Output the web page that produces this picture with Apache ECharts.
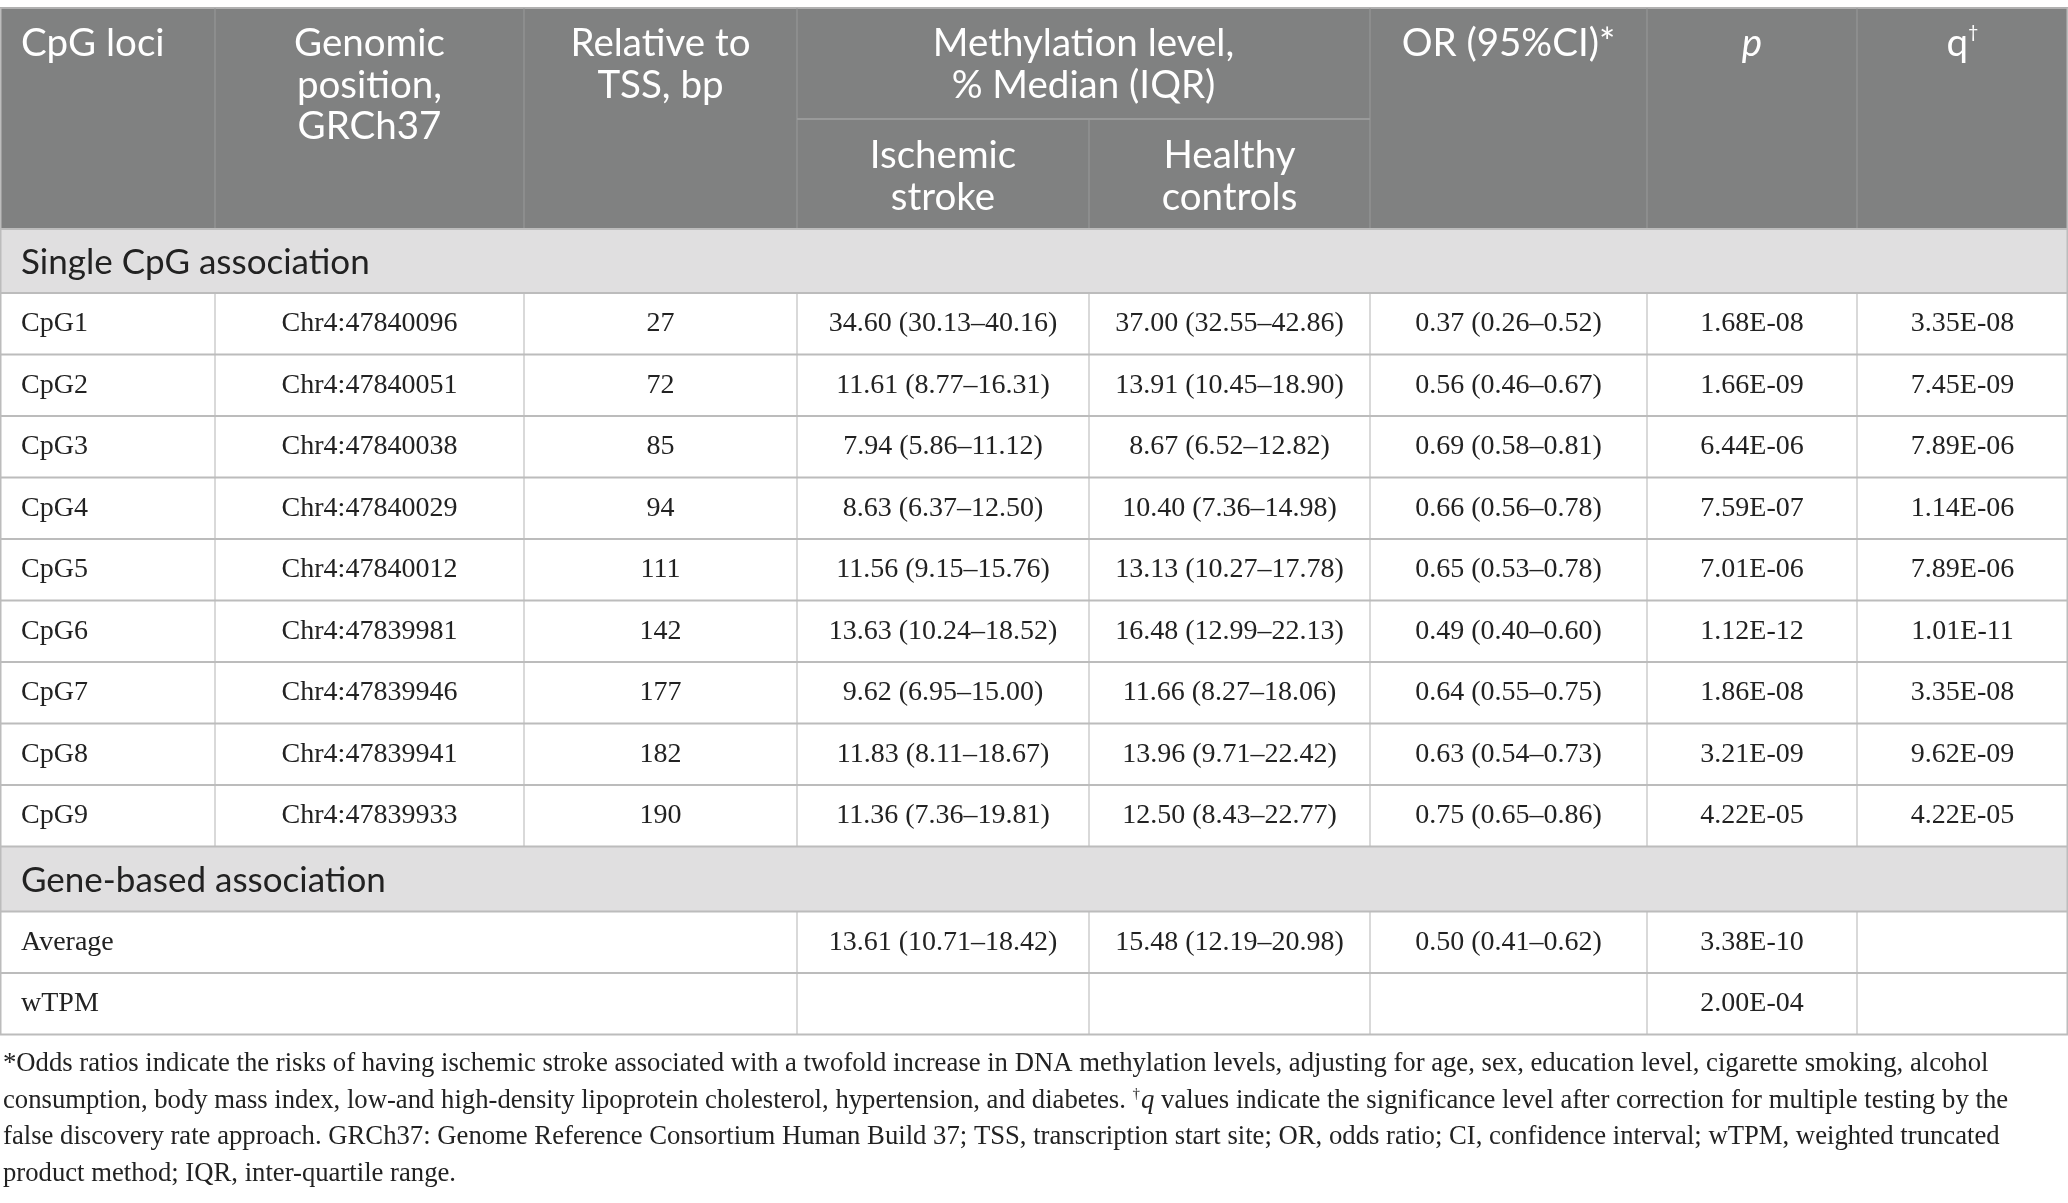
<!DOCTYPE html>
<html lang="en">
<head>
<meta charset="UTF-8">
<title>CpG methylation table</title>
<script src="https://cdn.jsdelivr.net/npm/echarts@6/dist/echarts.min.js"></script>
<style>
  html, body { margin: 0; padding: 0; background: #fff; }
  #main { width: 2068px; height: 1203px; }
</style>
</head>
<body>
<div id="main"></div>
<script>
// ---- table content ----
var sectionTitles = ['Single CpG association', 'Gene-based association'];
var loci = ['CpG1', 'CpG2', 'CpG3', 'CpG4', 'CpG5', 'CpG6', 'CpG7', 'CpG8', 'CpG9'];
var positions = ['Chr4:47840096', 'Chr4:47840051', 'Chr4:47840038', 'Chr4:47840029', 'Chr4:47840012',
  'Chr4:47839981', 'Chr4:47839946', 'Chr4:47839941', 'Chr4:47839933'];
var tssDist = ['27', '72', '85', '94', '111', '142', '177', '182', '190'];
var ischemic = ['34.60 (30.13–40.16)', '11.61 (8.77–16.31)', '7.94 (5.86–11.12)', '8.63 (6.37–12.50)',
  '11.56 (9.15–15.76)', '13.63 (10.24–18.52)', '9.62 (6.95–15.00)', '11.83 (8.11–18.67)', '11.36 (7.36–19.81)'];
var healthy = ['37.00 (32.55–42.86)', '13.91 (10.45–18.90)', '8.67 (6.52–12.82)', '10.40 (7.36–14.98)',
  '13.13 (10.27–17.78)', '16.48 (12.99–22.13)', '11.66 (8.27–18.06)', '13.96 (9.71–22.42)', '12.50 (8.43–22.77)'];
var orCI = ['0.37 (0.26–0.52)', '0.56 (0.46–0.67)', '0.69 (0.58–0.81)', '0.66 (0.56–0.78)', '0.65 (0.53–0.78)',
  '0.49 (0.40–0.60)', '0.64 (0.55–0.75)', '0.63 (0.54–0.73)', '0.75 (0.65–0.86)'];
var pVals = ['1.68E-08', '1.66E-09', '6.44E-06', '7.59E-07', '7.01E-06', '1.12E-12', '1.86E-08', '3.21E-09', '4.22E-05'];
var qVals = ['3.35E-08', '7.45E-09', '7.89E-06', '1.14E-06', '7.89E-06', '1.01E-11', '3.35E-08', '9.62E-09', '4.22E-05'];

var geneMethods = ['Average', 'wTPM'];
var geneIschemic = ['13.61 (10.71–18.42)', ''];
var geneHealthy = ['15.48 (12.19–20.98)', ''];
var geneOR = ['0.50 (0.41–0.62)', ''];
var geneP = ['3.38E-10', '2.00E-04'];
var geneQ = ['', ''];

var footLines = [
  '*Odds ratios indicate the risks of having ischemic stroke associated with a twofold increase in DNA methylation levels, adjusting for age, sex, education level, cigarette smoking, alcohol',
  'consumption, body mass index, low-and high-density lipoprotein cholesterol, hypertension, and diabetes. {sup|†}{it|q} values indicate the significance level after correction for multiple testing by the',
  'false discovery rate approach. GRCh37: Genome Reference Consortium Human Build 37; TSS, transcription start site; OR, odds ratio; CI, confidence interval; wTPM, weighted truncated',
  'product method; IQR, inter-quartile range.'
];

// ---- layout ----
var colX = [0, 215, 524, 797, 1089, 1370, 1647, 1857, 2068];
var headTop = 8, subLine = 119, headBottom = 229;
var sec1Bottom = 293, rowH = 61.5;
var sec2Top = sec1Bottom + rowH * loci.length;
var sec2Bottom = sec2Top + 65;
var tableBottom = sec2Bottom + rowH * geneMethods.length;

var headFont = 'Lato, "Open Sans", sans-serif';
var bodyFont = '"Liberation Serif", "DejaVu Serif", serif';
var headGrey = '#808181', secGrey = '#e0dfe0', lineGrey = '#bcbcbc', vGrey = '#cccccc';

var els = [];
function rect(x, y, w, h, fill) {
  els.push({ type: 'rect', shape: { x: x, y: y, width: w, height: h }, style: { fill: fill }, silent: true });
}
function line(x1, y1, x2, y2, color, w) {
  els.push({ type: 'line', shape: { x1: x1, y1: y1, x2: x2, y2: y2 }, style: { stroke: color, lineWidth: w }, silent: true });
}
function cellText(str, col, cy, align) {
  if (!str) return;
  var x = align === 'left' ? colX[col] + 21 : (colX[col] + colX[col + 1]) / 2;
  els.push({ type: 'text', x: x, y: cy, silent: true,
    style: { text: str, fill: '#222', font: '28px ' + bodyFont, textAlign: align || 'center', textVerticalAlign: 'middle' } });
}
function headText(str, cx, top, align, extra) {
  var st = { text: str, fill: '#fff', fontFamily: headFont, fontSize: 38.5, lineHeight: 41.5,
    textAlign: align || 'center', textVerticalAlign: 'top' };
  if (extra) for (var k in extra) st[k] = extra[k];
  els.push({ type: 'text', x: cx, y: top, silent: true, style: st });
}

// header block
rect(0, headTop, 2068, headBottom - headTop, headGrey);
line(0, headTop, 2068, headTop, '#b0b0b0', 2);
[1, 2, 3, 5, 6, 7].forEach(function (i) { line(colX[i], headTop, colX[i], headBottom, '#999a9a', 1); });
line(colX[4], subLine, colX[4], headBottom, '#999a9a', 1);
line(colX[3], subLine, colX[5], subLine, '#999a9a', 2);

function mid(i) { return (colX[i] + colX[i + 1]) / 2; }
headText('CpG loci', 21, 23, 'left');
headText('Genomic\nposition,\nGRCh37', mid(1), 23);
headText('Relative to\nTSS, bp', mid(2), 23);
headText('Methylation level,\n% Median (IQR)', (colX[3] + colX[5]) / 2, 23);
headText('Ischemic\nstroke', mid(3), 135);
headText('Healthy\ncontrols', mid(4), 135);
headText('OR (95%CI)*', mid(5), 23);
headText('p', mid(6), 23, 'center', { fontStyle: 'italic' });
headText('{q|q}{d|†}', mid(7), 23, 'center', {
  rich: { q: { fontFamily: headFont, fontSize: 38.5, fill: '#fff', lineHeight: 41.5 },
          d: { fontFamily: headFont, fontSize: 18, fill: '#fff', verticalAlign: 'top', lineHeight: 41.5 } } });

// section bands
function section(top, bottom, title) {
  rect(0, top, 2068, bottom - top, secGrey);
  els.push({ type: 'text', x: 21, y: (top + bottom) / 2 + 2, silent: true,
    style: { text: title, fill: '#222', fontFamily: headFont, fontSize: 35, textAlign: 'left', textVerticalAlign: 'middle' } });
}
section(headBottom, sec1Bottom, sectionTitles[0]);
section(sec2Top, sec2Bottom, sectionTitles[1]);

// single CpG rows
loci.forEach(function (name, r) {
  var cy = sec1Bottom + rowH * (r + 0.5);
  cellText(name, 0, cy, 'left');
  cellText(positions[r], 1, cy);
  cellText(tssDist[r], 2, cy);
  cellText(ischemic[r], 3, cy);
  cellText(healthy[r], 4, cy);
  cellText(orCI[r], 5, cy);
  cellText(pVals[r], 6, cy);
  cellText(qVals[r], 7, cy);
});
[1, 2, 3, 4, 5, 6, 7].forEach(function (i) { line(colX[i], sec1Bottom, colX[i], sec2Top, vGrey, 1.5); });

// gene-based rows
geneMethods.forEach(function (name, r) {
  var cy = sec2Bottom + rowH * (r + 0.5);
  cellText(name, 0, cy, 'left');
  cellText(geneIschemic[r], 3, cy);
  cellText(geneHealthy[r], 4, cy);
  cellText(geneOR[r], 5, cy);
  cellText(geneP[r], 6, cy);
  cellText(geneQ[r], 7, cy);
});
[3, 4, 5, 6, 7].forEach(function (i) { line(colX[i], sec2Bottom, colX[i], tableBottom, vGrey, 1.5); });

// horizontal rules
line(0, headBottom, 2068, headBottom, lineGrey, 2);
for (var r = 0; r <= loci.length; r++) line(0, sec1Bottom + rowH * r, 2068, sec1Bottom + rowH * r, lineGrey, 2);
for (var g = 0; g <= geneMethods.length; g++) line(0, sec2Bottom + rowH * g, 2068, sec2Bottom + rowH * g, lineGrey, 2);
// outer edges
line(0.75, headTop, 0.75, tableBottom, lineGrey, 1.5);
line(2067.25, headTop, 2067.25, tableBottom, lineGrey, 1.5);

// footnote
footLines.forEach(function (t, i) {
  els.push({ type: 'text', x: 3, y: 1064 + 36.5 * i, silent: true,
    style: { text: t, fill: '#222', fontFamily: bodyFont, fontSize: 26.7, textAlign: 'left', textVerticalAlign: 'middle',
      rich: { sup: { fontFamily: bodyFont, fontSize: 15, fill: '#222', verticalAlign: 'top', padding: [0, 1, 8, 0] },
              it: { fontFamily: bodyFont, fontSize: 26.7, fill: '#222', fontStyle: 'italic' } } } });
});

var myChart = echarts.init(document.getElementById('main'));
myChart.setOption({ animation: false, graphic: { elements: els } });
</script>
</body>
</html>
